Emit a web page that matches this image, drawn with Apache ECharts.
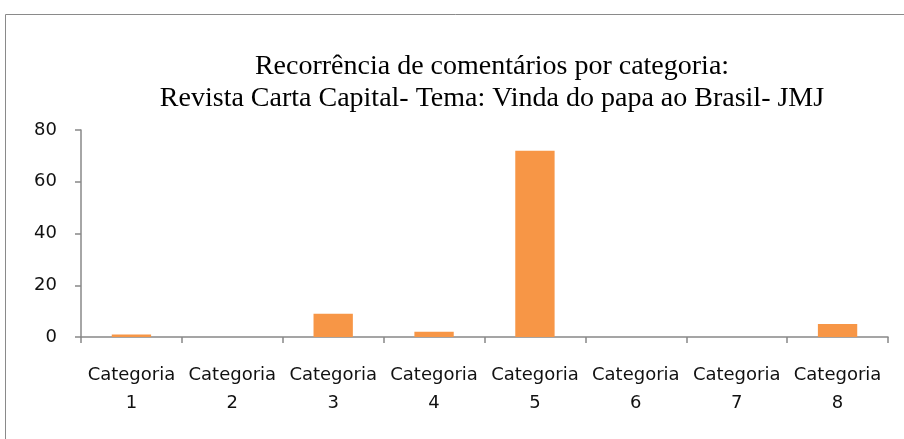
<!DOCTYPE html>
<html>
<head>
<meta charset="utf-8">
<script src="https://cdn.jsdelivr.net/npm/echarts@6/dist/echarts.min.js"></script>
<style>
  html, body { margin: 0; padding: 0; background: #fff; }
  #chart { width: 904px; height: 439px; }
</style>
</head>
<body>
<div id="chart"></div>
<script>
// valores
const categorias = ['Categoria\n1', 'Categoria\n2', 'Categoria\n3', 'Categoria\n4',
                    'Categoria\n5', 'Categoria\n6', 'Categoria\n7', 'Categoria\n8'];
const comentarios = [1, 0, 9, 2, 72, 0, 0, 5];
const tituloLinhas = ['Recorrência de comentários por categoria:',
                      'Revista Carta Capital- Tema: Vinda do papa ao Brasil- JMJ'];

const chart = echarts.init(document.getElementById('chart'));
chart.setOption({
  animation: false,
  backgroundColor: '#fff',
  title: {
    text: tituloLinhas.join('\n'),
    left: 487,
    top: 46,
    textAlign: 'center',
    textStyle: {
      fontFamily: 'Liberation Serif',
      fontWeight: 'normal',
      fontSize: 28,
      lineHeight: 32,
      color: '#000'
    }
  },
  graphic: [{
    type: 'rect',
    shape: { x: 5.5, y: 14.5, width: 920, height: 440 },
    style: { fill: 'none', stroke: '#8a8a8a', lineWidth: 1 },
    silent: true
  }],
  grid: { left: 81, right: 16, top: 130, bottom: 102 },
  xAxis: {
    type: 'category',
    data: categorias,
    axisLine: { lineStyle: { color: '#888', width: 1.5 } },
    axisTick: { show: true, length: 6, lineStyle: { color: '#888', width: 1.5 } },
    axisLabel: {
      interval: 0,
      margin: 24,
      fontFamily: 'DejaVu Sans',
      fontSize: 18,
      lineHeight: 28,
      color: '#111'
    }
  },
  yAxis: {
    type: 'value',
    min: 0,
    max: 80,
    interval: 20,
    axisLine: { show: true, lineStyle: { color: '#888', width: 1.5 } },
    axisTick: { show: true, length: 6, lineStyle: { color: '#888', width: 1.5 } },
    splitLine: { show: false },
    axisLabel: {
      margin: 24,
      fontFamily: 'DejaVu Sans',
      fontSize: 18,
      color: '#111'
    }
  },
  series: [{
    type: 'bar',
    data: comentarios,
    barWidth: '39%',
    itemStyle: { color: '#F79646' }
  }]
});
</script>
</body>
</html>
